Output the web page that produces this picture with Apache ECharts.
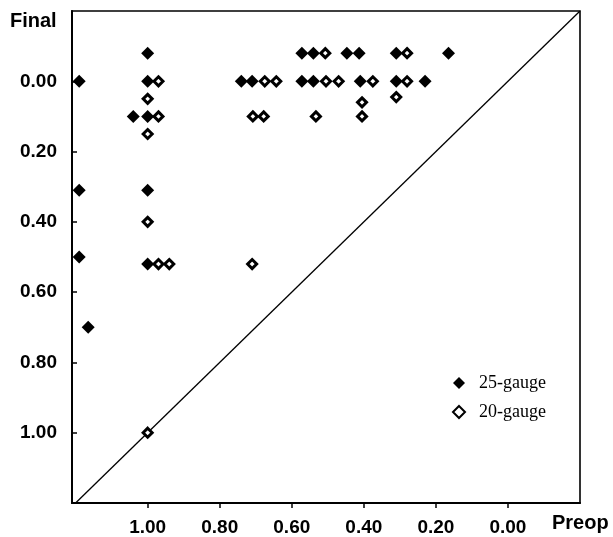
<!DOCTYPE html>
<html>
<head>
<meta charset="utf-8">
<script src="https://cdn.jsdelivr.net/npm/echarts@6/dist/echarts.min.js"></script>
<style>
html,body{margin:0;padding:0;background:#fff;}
#chart{width:613px;height:537px;}
</style>
</head>
<body>
<div id="chart"></div>
<script>
// Preop (x) and Final (y) logMAR values
var gauge25X = [1.19, 1.19, 1.19, 1.165, 1.00, 1.00, 1.04, 1.00, 1.00, 1.00, 0.74, 0.71, 0.572, 0.54, 0.447, 0.413, 0.31, 0.165, 0.572, 0.54, 0.41, 0.31, 0.23];
var gauge25Y = [0.00, 0.31, 0.50, 0.70, -0.08, 0.00, 0.10, 0.10, 0.31, 0.52, 0.00, 0.00, -0.08, -0.08, -0.08, -0.08, -0.08, -0.08, 0.00, 0.00, 0.00, 0.00, 0.00];
var gauge20X = [0.97, 1.00, 0.97, 1.00, 1.00, 0.97, 0.94, 0.71, 1.00, 0.675, 0.643, 0.708, 0.678, 0.507, 0.28, 0.505, 0.47, 0.375, 0.28, 0.533, 0.405, 0.405, 0.31];
var gauge20Y = [0.00, 0.05, 0.10, 0.15, 0.40, 0.52, 0.52, 0.52, 1.00, 0.00, 0.00, 0.10, 0.10, -0.08, -0.08, 0.00, 0.00, 0.00, 0.00, 0.10, 0.06, 0.10, 0.045];
var seriesNames = ['25-gauge', '20-gauge'];
var xTicks = [1.0, 0.8, 0.6, 0.4, 0.2, 0.0];
var yTicks = [0.0, 0.2, 0.4, 0.6, 0.8, 1.0];
var xTickLabels = ['1.00', '0.80', '0.60', '0.40', '0.20', '0.00'];
var yTickLabels = ['0.00', '0.20', '0.40', '0.60', '0.80', '1.00'];
var xRange = [-0.2, 1.21];
var yRange = [-0.2, 1.2];
var diagonal = [[1.2, 1.2], [-0.2, -0.2]];
var xName = 'Preop';
var yName = 'Final';

function pairs(xs, ys) { return xs.map(function (x, i) { return [x, ys[i]]; }); }
function labelFor(ticks, labels) {
  return function (v) {
    for (var i = 0; i < ticks.length; i++) { if (Math.abs(ticks[i] - v) < 1e-6) return labels[i]; }
    return '';
  };
}

var chart = echarts.init(document.getElementById('chart'), null, {renderer: 'canvas'});
var font = 'Liberation Sans, Arial, sans-serif';
chart.setOption({
  animation: false,
  backgroundColor: '#ffffff',
  grid: {left: 72, right: 33, top: 11, bottom: 34, show: true, borderColor: '#000', borderWidth: 1.6, backgroundColor: 'transparent'},
  xAxis: {
    type: 'value', inverse: true, min: xRange[0], max: xRange[1],
    splitLine: {show: false},
    axisLine: {show: true, onZero: false, lineStyle: {color: '#000', width: 2}},
    axisTick: {show: true, inside: false, length: 5, customValues: xTicks, lineStyle: {color: '#000', width: 1.5}},
    axisLabel: {customValues: xTicks, formatter: labelFor(xTicks, xTickLabels), margin: 15, color: '#000', fontFamily: font, fontSize: 19, fontWeight: 'bold'}
  },
  yAxis: {
    type: 'value', inverse: true, min: yRange[0], max: yRange[1],
    splitLine: {show: false},
    axisLine: {show: true, onZero: false, lineStyle: {color: '#000', width: 2}},
    axisTick: {show: true, inside: true, length: 5, customValues: yTicks, lineStyle: {color: '#000', width: 1.5}},
    axisLabel: {customValues: yTicks, formatter: labelFor(yTicks, yTickLabels), margin: 15, color: '#000', fontFamily: font, fontSize: 19, fontWeight: 'bold'}
  },
  legend: {
    orient: 'vertical', left: 447, top: 369,
    itemWidth: 12, itemHeight: 12, itemGap: 11,
    data: seriesNames,
    textStyle: {fontFamily: 'Liberation Serif, Times New Roman, serif', fontSize: 18, color: '#000', padding: [0, 0, 0, 9]}
  },
  graphic: [
    {type: 'text', left: 10, top: 11, style: {text: yName, font: 'bold 20px ' + font, fill: '#000'}},
    {type: 'text', left: 552, top: 513, style: {text: xName, font: 'bold 20px ' + font, fill: '#000'}}
  ],
  series: [
    {
      type: 'line', data: diagonal, showSymbol: false, silent: true,
      lineStyle: {color: '#000', width: 1.3}, z: 1
    },
    {
      name: seriesNames[0], type: 'scatter', data: pairs(gauge25X, gauge25Y),
      symbol: 'diamond', symbolSize: 13,
      itemStyle: {color: '#000', opacity: 1}, z: 3
    },
    {
      name: seriesNames[1], type: 'scatter', data: pairs(gauge20X, gauge20Y),
      symbol: 'diamond', symbolSize: 9,
      itemStyle: {color: '#fff', borderColor: '#000', borderWidth: 3, opacity: 1}, z: 4
    }
  ]
});
</script>
</body>
</html>
